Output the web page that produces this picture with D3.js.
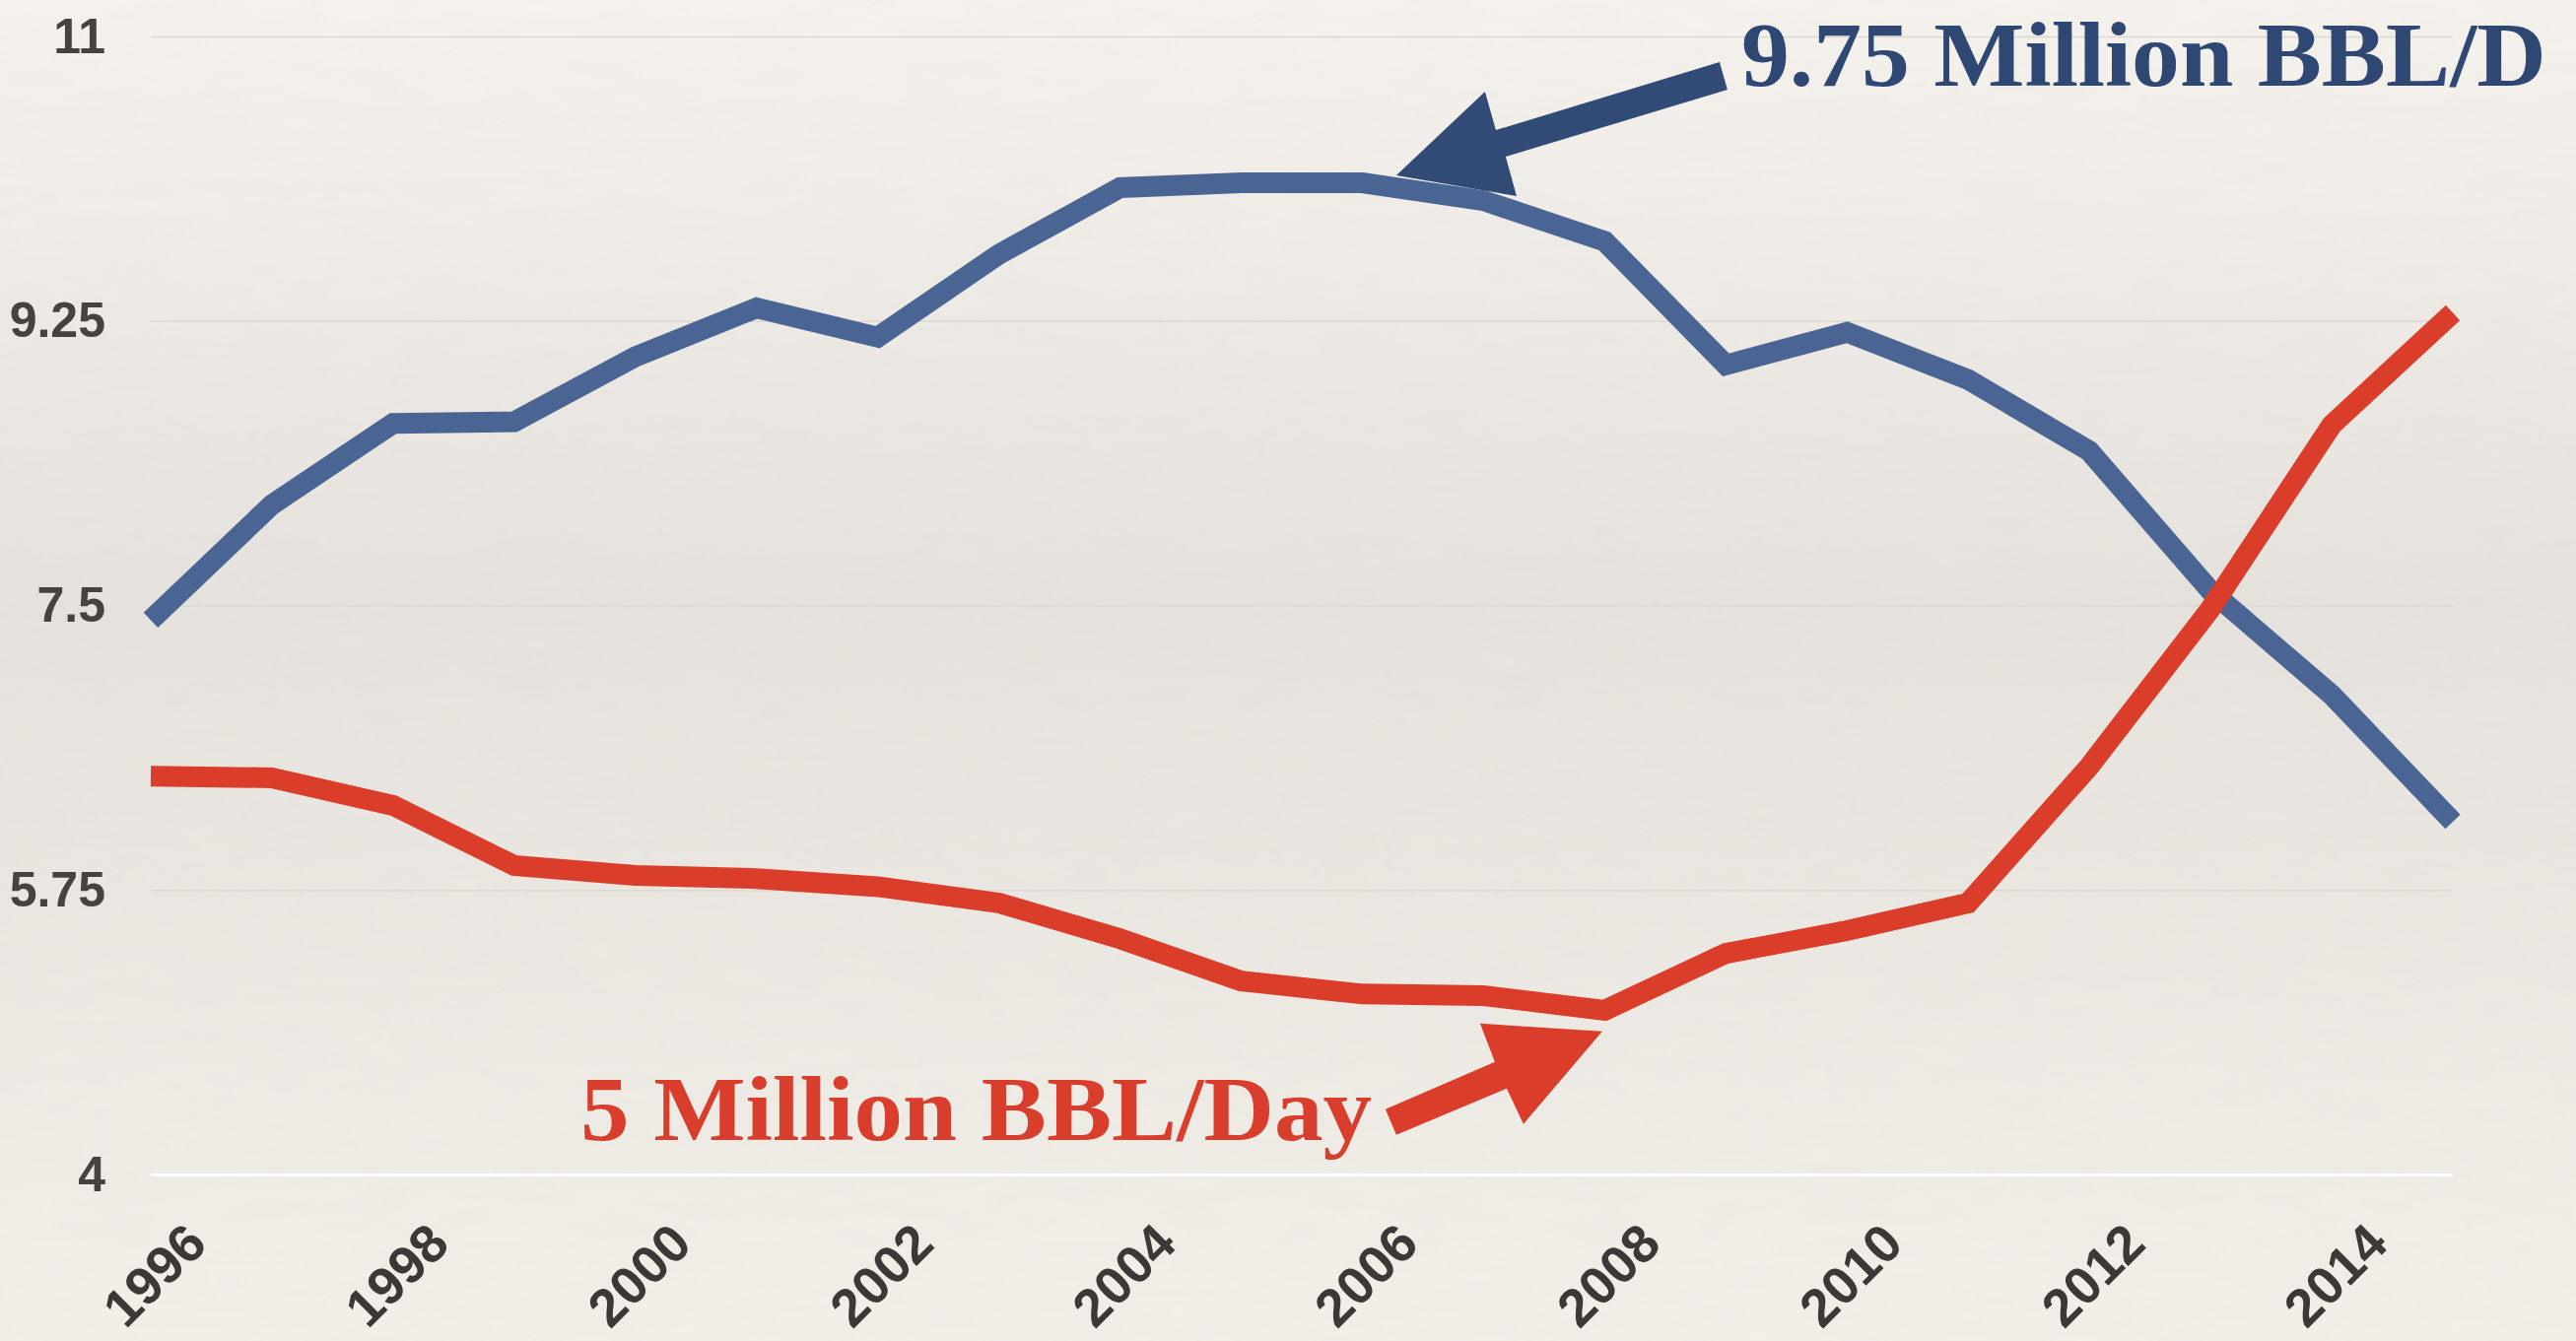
<!DOCTYPE html>
<html lang="en">
<head>
  <meta charset="UTF-8">
  <title>oil production</title>
  <script src="https://d3js.org/d3.v7.min.js"></script>
  <style>
    html, body { margin: 0; padding: 0; overflow: hidden; }
  </style>
</head>
<body>
  <svg id="chart" width="2614" height="1361"></svg>
  <script>
    // data (million barrels per day)
    const years = [1996, 1997, 1998, 1999, 2000, 2001, 2002, 2003, 2004, 2005,
                   2006, 2007, 2008, 2009, 2010, 2011, 2012, 2013, 2014, 2015];
    const blueValues = [7.41, 8.12, 8.62, 8.63, 9.03, 9.33, 9.15, 9.66, 10.07, 10.10,
                        10.10, 9.99, 9.74, 8.98, 9.18, 8.89, 8.45, 7.59, 6.95, 6.17];
    const redValues = [6.45, 6.44, 6.27, 5.90, 5.84, 5.82, 5.77, 5.67, 5.45, 5.19,
                       5.11, 5.10, 5.01, 5.36, 5.50, 5.67, 6.51, 7.48, 8.61, 9.30];
    const yTicks = [4, 5.75, 7.5, 9.25, 11];
    const yTickLabels = ['4', '5.75', '7.5', '9.25', '11'];
    const xTicks = [1996, 1998, 2000, 2002, 2004, 2006, 2008, 2010, 2012, 2014];

    const svg = d3.select('svg#chart');
    const width = +svg.attr('width');
    const height = +svg.attr('height');
    const margins = { top: 37, right: 125, bottom: 169, left: 153 };

    const x = d3.scaleLinear().domain([1996, 2015]).range([margins.left, width - margins.right]);
    const y = d3.scaleLinear().domain([4, 11]).range([height - margins.bottom, margins.top]);

    // paper background
    const defs = svg.append('defs');
    const grad = defs.append('linearGradient').attr('id', 'bg')
      .attr('x1', 0).attr('y1', 0).attr('x2', 0).attr('y2', 1);
    grad.append('stop').attr('offset', '0%').attr('stop-color', '#f6f3ee');
    grad.append('stop').attr('offset', '45%').attr('stop-color', '#e6e2dd');
    grad.append('stop').attr('offset', '100%').attr('stop-color', '#f3f0ea');
    const noise = defs.append('filter').attr('id', 'paper')
      .attr('x', 0).attr('y', 0).attr('width', '100%').attr('height', '100%');
    noise.append('feTurbulence').attr('type', 'fractalNoise')
      .attr('baseFrequency', '0.012 0.05').attr('numOctaves', 3).attr('seed', 4);
    noise.append('feColorMatrix').attr('type', 'matrix')
      .attr('values', '0 0 0 0 0.5  0 0 0 0 0.48  0 0 0 0 0.45  0 0 0 0.05 0');
    noise.append('feComposite').attr('in2', 'SourceGraphic').attr('operator', 'in');

    svg.append('rect').attr('width', width).attr('height', height).attr('fill', 'url(#bg)');
    svg.append('rect').attr('width', width).attr('height', height)
      .attr('fill', '#fff').attr('filter', 'url(#paper)');

    // y axis + gridlines
    const yAxis = svg.append('g')
      .attr('transform', `translate(${margins.left},0)`)
      .call(d3.axisLeft(y).tickValues(yTicks)
        .tickSize(-(width - margins.left - margins.right))
        .tickFormat((d, i) => yTickLabels[i]));
    yAxis.select('.domain').remove();
    yAxis.selectAll('.tick line')
      .attr('stroke', d => d === 4 ? '#ffffff' : '#dcd8d1')
      .attr('stroke-width', d => d === 4 ? 3 : 1.5);
    yAxis.selectAll('.tick text')
      .attr('x', -46)
      .attr('fill', '#46423f')
      .style('font-family', 'Liberation Sans, Arial, sans-serif')
      .style('font-weight', 'bold')
      .style('font-size', '50px');

    // x axis labels
    const xAxis = svg.append('g')
      .attr('transform', `translate(0,${y(4)})`)
      .call(d3.axisBottom(x).tickValues(xTicks).tickSize(0).tickFormat(d => String(d)));
    xAxis.select('.domain').remove();
    xAxis.selectAll('.tick text')
      .attr('y', 0)
      .attr('dy', '0.35em')
      .attr('transform', 'translate(3,102) rotate(-45)')
      .attr('text-anchor', 'middle')
      .attr('fill', '#3b3835')
      .style('font-family', 'Liberation Sans, Arial, sans-serif')
      .style('font-weight', 'bold')
      .style('font-size', '54px');

    // lines
    const line = d3.line().x((d, i) => x(years[i])).y(d => y(d));
    svg.append('path').datum(blueValues)
      .attr('d', line)
      .attr('fill', 'none')
      .attr('stroke', '#4a6593')
      .attr('stroke-width', 21)
      .attr('stroke-linejoin', 'miter');
    svg.append('path').datum(redValues)
      .attr('d', line)
      .attr('fill', 'none')
      .attr('stroke', '#da3e2a')
      .attr('stroke-width', 21)
      .attr('stroke-linejoin', 'miter');

    // annotation arrows: shapes relative to the tip, tip placed in data space
    const blueArrow = [[328, -115], [101, -46], [90, -85], [0, 0], [122, 21], [111, -19], [336, -87]];
    const redArrow = [[-220, 79], [-109, 31], [-124, -8], [0, 0], [-80, 94], [-97, 58], [-209, 105]];
    const blueTip = [2006.28, 10.145];
    const redTip = [2007.98, 4.88];

    svg.append('polygon')
      .attr('points', blueArrow.map(p => [x(blueTip[0]) + p[0], y(blueTip[1]) + p[1]].join(',')).join(' '))
      .attr('fill', '#314a76');
    svg.append('polygon')
      .attr('points', redArrow.map(p => [x(redTip[0]) + p[0], y(redTip[1]) + p[1]].join(',')).join(' '))
      .attr('fill', '#da3e2a');

    svg.append('text')
      .attr('x', x(blueTip[0]) + 350)
      .attr('y', y(blueTip[1]) - 91)
      .attr('textLength', 817)
      .attr('lengthAdjust', 'spacingAndGlyphs')
      .attr('fill', '#2f4773')
      .style('font-family', 'Liberation Serif, Times New Roman, serif')
      .style('font-weight', 'bold')
      .style('font-size', '94px')
      .text('9.75 Million BBL/D');

    svg.append('text')
      .attr('x', x(redTip[0]) - 1037)
      .attr('y', y(redTip[1]) + 110)
      .attr('textLength', 803)
      .attr('lengthAdjust', 'spacingAndGlyphs')
      .attr('fill', '#d93d2b')
      .style('font-family', 'Liberation Serif, Times New Roman, serif')
      .style('font-weight', 'bold')
      .style('font-size', '94px')
      .text('5 Million BBL/Day');
  </script>
</body>
</html>
